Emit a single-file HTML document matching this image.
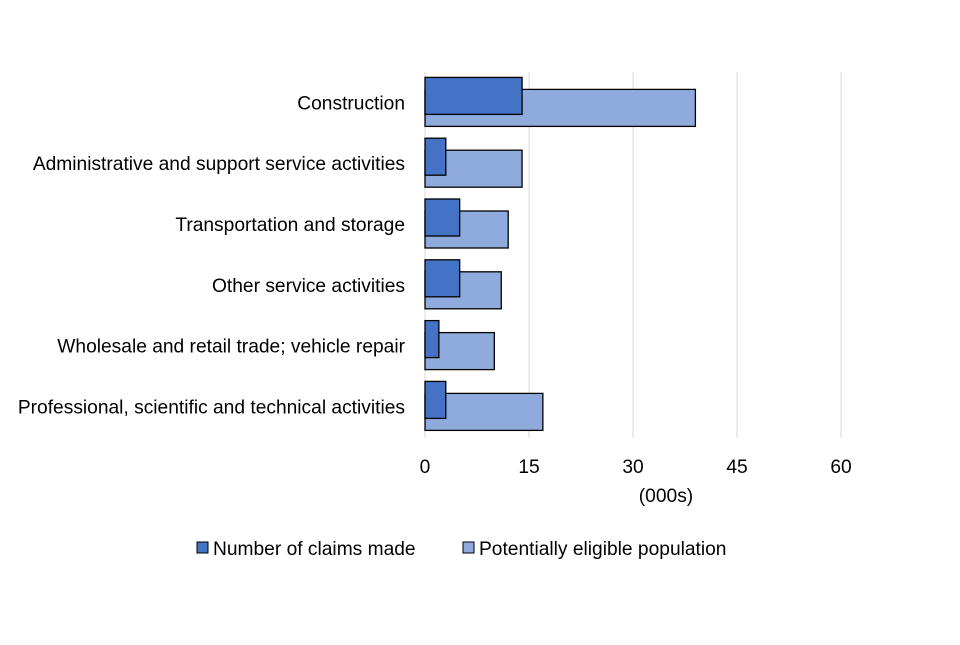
<!DOCTYPE html>
<html><head><meta charset="utf-8"><style>
body{margin:0;background:#fff;font-family:"Liberation Sans",Arial,sans-serif;}
svg text{font-family:"Liberation Sans",Arial,sans-serif;fill:#000;}
</style></head><body>
<svg id="chart" width="960" height="640" viewBox="0 0 960 640"></svg>
<script>
const categories=["Construction","Administrative and support service activities","Transportation and storage","Other service activities","Wholesale and retail trade; vehicle repair","Professional, scientific and technical activities"];
const claims=[14,3,5,5,2,3];
const eligible=[39,14,12,11,10,17];
const ticks=[0,15,30,45,60];
const svg=document.getElementById('chart');
const NS='http://www.w3.org/2000/svg';
const x0=425,pxPer=104/15,plotTop=72,band=60.8,fs=19.2;
const xs=v=>x0+v*pxPer;
function mk(t,a){const e=document.createElementNS(NS,t);for(const k in a)e.setAttribute(k,a[k]);svg.appendChild(e);return e;}
ticks.forEach((t,i)=>{
 const g=mk('line',{x1:xs(t),x2:xs(t),y1:plotTop,y2:438,stroke:'#d9d9d9','stroke-width':1});
 
 
 const tx=mk('text',{x:xs(t),y:473,'text-anchor':'middle','font-size':fs});
 tx.textContent=t;
 
 
});
const xt=mk('text',{x:666,y:502,'text-anchor':'middle','font-size':fs});xt.textContent='(000s)';


categories.forEach((c,i)=>{
 const cy=plotTop+band*i+band/2;
 const l=mk('text',{x:405,y:cy+7,'text-anchor':'end','font-size':fs});l.textContent=c;
 
 
 const b2=mk('rect',{x:x0,y:cy-13,width:xs(eligible[i])-x0,height:37,fill:'#8FAADC',stroke:'#000','stroke-width':1.3});
 
 
 const b1=mk('rect',{x:x0,y:cy-25,width:xs(claims[i])-x0,height:37,fill:'#4472C4',stroke:'#000','stroke-width':1.3});
 
 
});
const leg=[['#4472C4','Number of claims made',197],['#8FAADC','Potentially eligible population',463]];
leg.forEach(([col,txt,x])=>{
 const r=mk('rect',{x:x,y:542,width:11,height:11,fill:col,stroke:'#000','stroke-width':1});
 
 
 const t=mk('text',{x:x+16,y:555,'font-size':fs});t.textContent=txt;
 
 
});
</script>
</body></html>
